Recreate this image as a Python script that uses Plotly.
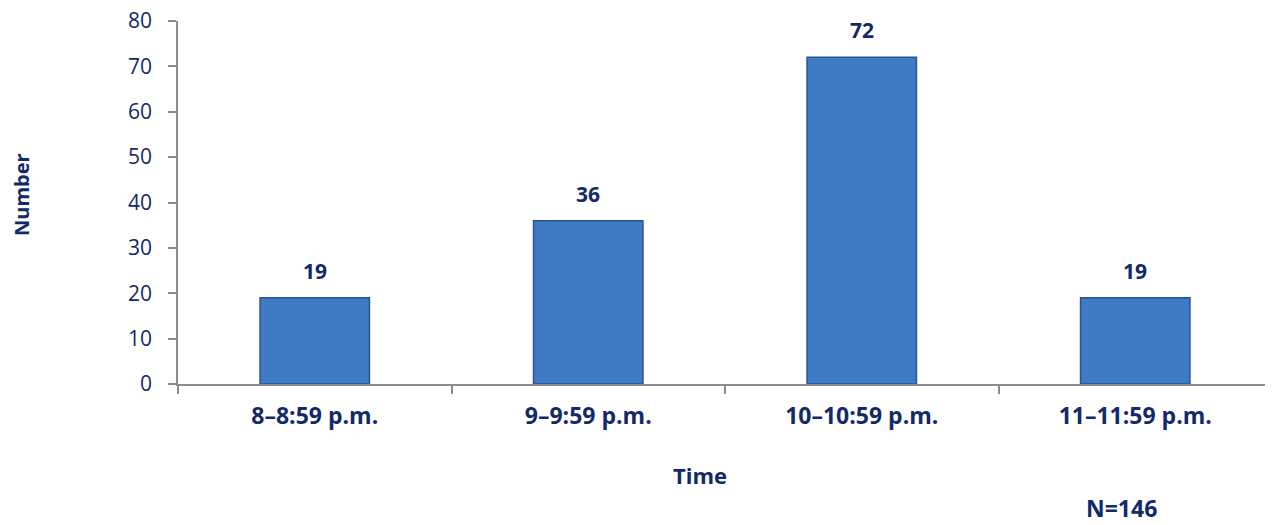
import plotly.graph_objects as go

categories = ["8–8:59 p.m.", "9–9:59 p.m.", "10–10:59 p.m.", "11–11:59 p.m."]
values = [19, 36, 72, 19]
y_ticks = [0, 10, 20, 30, 40, 50, 60, 70, 80]
y_title = "Number"
x_title = "Time"
note = "N=146"

TEXT = "#12296A"
FONT = "Open Sans"

OFF = 8  # page body margin
W, H = 1273 - OFF, 525 - OFF
ML, MR, MT, MB = 178 - OFF, 1, 21 - OFF, 141
pw, ph = W - ML - MR, H - MT - MB

def px(xp):
    return (xp - OFF - ML) / pw

def py(yp):
    return (H - MB - (yp - OFF)) / ph

fig = go.Figure()
fig.add_trace(go.Bar(
    x=categories, y=values, width=0.4,
    marker=dict(color="#3F7AC4", line=dict(color="#2A5490", width=1.5)),
    hoverinfo="skip",
))

for c, v in zip(categories, values):
    fig.add_annotation(x=c, y=v, text=f"<b>{v}</b>", showarrow=False,
                       yanchor="bottom", yshift=11,
                       font=dict(family=FONT, size=21, color=TEXT))

common = dict(xref="paper", yref="paper", showarrow=False, xanchor="center", yanchor="middle")
fig.add_annotation(x=px(22), y=py(195), text=f"<b>{y_title}</b>", textangle=-90,
                   font=dict(family=FONT, size=20, color=TEXT), **common)
fig.add_annotation(x=px(700), y=py(475), text=f"<b>{x_title}</b>",
                   font=dict(family=FONT, size=22, color=TEXT), **common)
fig.add_annotation(x=px(1121), y=py(508), text=f"<b>{note}</b>",
                   font=dict(family=FONT, size=23, color=TEXT), **common)

fig.update_layout(
    width=W, height=H,
    margin=dict(l=ML, r=MR, t=MT, b=MB, autoexpand=False),
    paper_bgcolor="white", plot_bgcolor="white",
    showlegend=False,
    xaxis=dict(
        type="category", showline=True, linecolor="#8C8C8C", linewidth=1.5,
        ticks="outside", tickson="boundaries", ticklen=8, tickcolor="#8C8C8C", tickwidth=1.5,
        tickfont=dict(family=FONT, size=23, color=TEXT, weight="bold"),
        ticklabelstandoff=11, showgrid=False, zeroline=False, automargin=False,
    ),
    yaxis=dict(
        range=[0, 80], tickvals=y_ticks, showline=True, linecolor="#8C8C8C", linewidth=1.5,
        ticks="outside", ticklen=8, tickcolor="#8C8C8C", tickwidth=1.5,
        tickfont=dict(family=FONT, size=21, color=TEXT),
        ticklabelstandoff=12, ticklabeloverflow="allow",
        showgrid=False, zeroline=False, automargin=False,
    ),
)

fig.write_html("out.html")
